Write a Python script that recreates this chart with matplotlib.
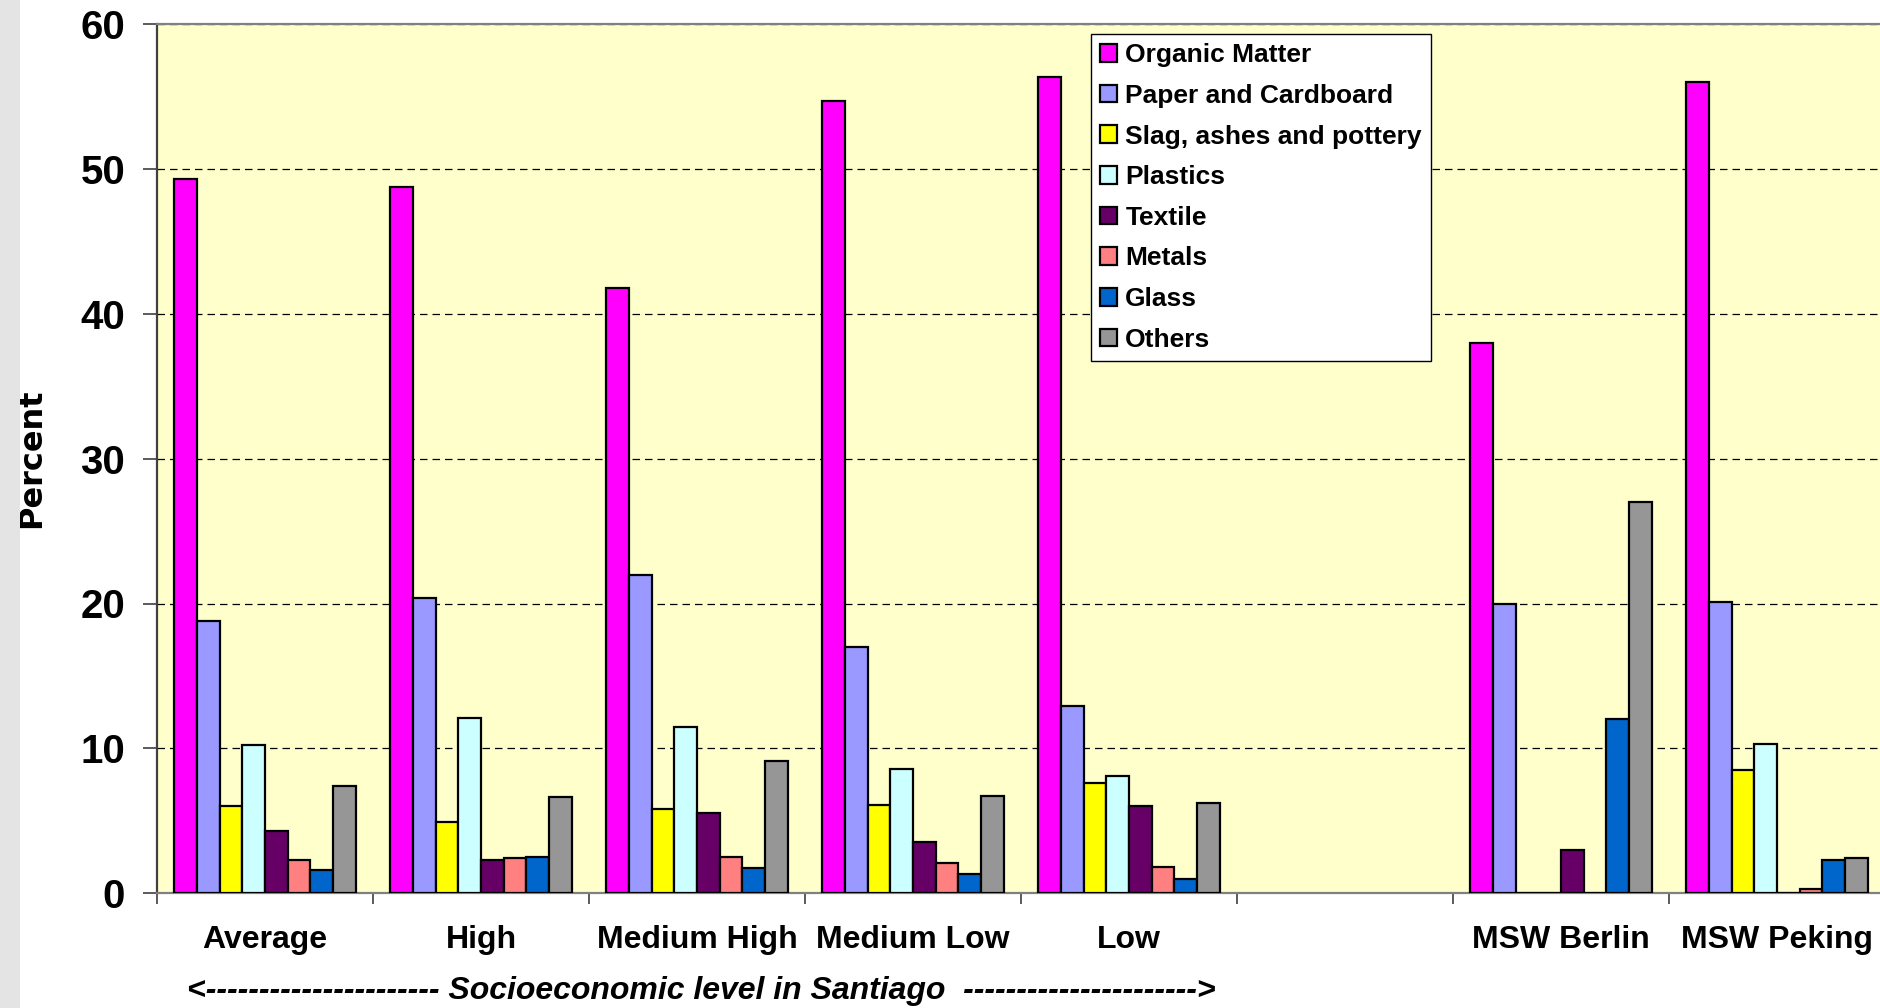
import numpy as np
import matplotlib.pyplot as plt
from matplotlib.patches import Rectangle

# waste composition by socioeconomic level (Santiago) and two reference cities
categories = ["Average", "High", "Medium High", "Medium Low", "Low", "", "MSW Berlin", "MSW Peking"]
materials = ["Organic Matter", "Paper and Cardboard", "Slag, ashes and pottery", "Plastics",
             "Textile", "Metals", "Glass", "Others"]

nan = np.nan
organic  = [49.3, 48.8, 41.8, 54.7, 56.4, nan, 38.0, 56.0]
paper    = [18.8, 20.4, 22.0, 17.0, 12.9, nan, 20.0, 20.1]
slag     = [6.0, 4.9, 5.8, 6.1, 7.6, nan, 0.0, 8.5]
plastics = [10.2, 12.1, 11.5, 8.6, 8.1, nan, 0.0, 10.3]
textile  = [4.3, 2.3, 5.5, 3.5, 6.0, nan, 3.0, 0.0]
metals   = [2.3, 2.4, 2.5, 2.1, 1.8, nan, 0.0, 0.3]
glass    = [1.6, 2.5, 1.7, 1.3, 1.0, nan, 12.0, 2.3]
others   = [7.4, 6.6, 9.1, 6.7, 6.2, nan, 27.0, 2.4]

series = [organic, paper, slag, plastics, textile, metals, glass, others]
colors = ["#FF00FF", "#9999FF", "#FFFF00", "#CCFFFF", "#660066", "#FF8080", "#0066CC", "#969696"]

plt.rcParams['font.family'] = ['Liberation Sans', 'DejaVu Sans']
plt.rcParams['font.weight'] = 'bold'

fig = plt.figure(figsize=(18.81, 10.08), dpi=100)
fig.patches.append(Rectangle((0, 0), 20 / 1881, 1, transform=fig.transFigure,
                             facecolor="#E4E4E4", edgecolor="none", zorder=0))

ax = fig.add_axes([157 / 1881, 115 / 1008, 1728 / 1881, 868.5 / 1008])
ax.set_facecolor("#FFFFCC")

x = np.arange(len(categories))
w = 0.105
for j, (vals, c, name) in enumerate(zip(series, colors, materials)):
    ax.bar(x + (j - 3.5) * w, vals, width=w, color=c, edgecolor="black",
           linewidth=1.6, label=name, zorder=3)

ax.set_xlim(-0.5, len(categories) - 0.5)
ax.set_ylim(0, 60)
ax.set_yticks(np.arange(0, 61, 10))
ax.yaxis.grid(True, color="black", linestyle=(0, (6, 4)), linewidth=0.9, zorder=1)
ax.tick_params(axis="y", length=10, width=1.2, color="#404040", pad=13, labelsize=29)

ax.set_xticks(x)
ax.set_xticklabels(categories, fontsize=23)
ax.set_xticks(np.arange(-0.5, len(categories), 1.0), minor=True)
ax.tick_params(axis="x", which="major", length=0, pad=23)
ax.tick_params(axis="x", which="minor", length=8, width=1.2, color="#404040")

for side in ["top", "bottom", "left"]:
    ax.spines[side].set_color("#808080")
    ax.spines[side].set_linewidth(1.6)
ax.spines["left"].set_color("#404040")
ax.spines["right"].set_visible(False)

ax.set_ylabel("Percent", fontsize=23, family="DejaVu Sans", fontweight="bold", labelpad=24)

ax.text(2.02, -0.113, "<" + "-" * 22 + " Socioeconomic level in Santiago  " + "-" * 22 + ">",
        transform=ax.get_xaxis_transform(), ha="center", va="center",
        fontsize=23, fontstyle="italic", fontweight="bold")

leg = ax.legend(loc="upper left", bbox_to_anchor=(0.5405, 0.989), borderaxespad=0,
                fontsize=19, frameon=True, fancybox=False, handlelength=0.65,
                handleheight=0.65, handletextpad=0.3, labelspacing=0.63, borderpad=0.35)
leg.get_frame().set_edgecolor("black")
leg.get_frame().set_linewidth(1.0)
leg.get_frame().set_facecolor("white")
leg.get_frame().set_alpha(1)
for t in leg.get_texts():
    t.set_fontweight("bold")
leg.set_zorder(5)

fig.savefig("out.png", dpi=100)
